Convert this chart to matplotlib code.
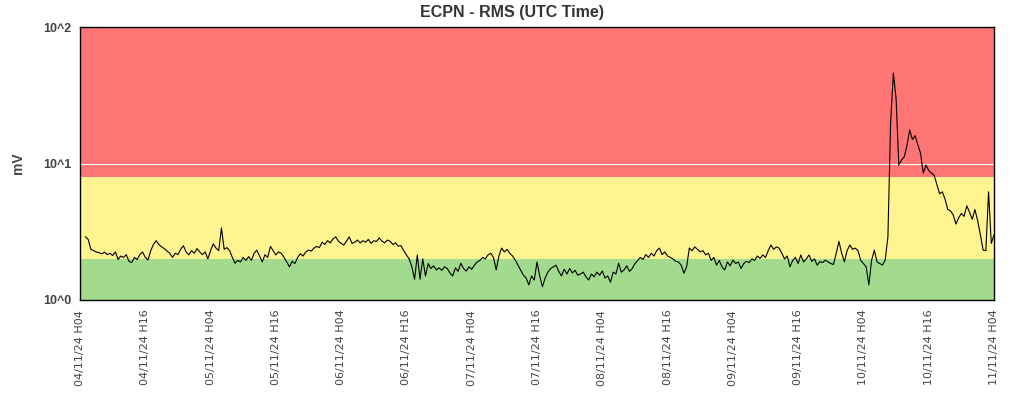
import pandas as pd
import matplotlib
matplotlib.use("Agg")
import matplotlib.pyplot as plt
import matplotlib.dates as mdates

# RMS values (mV), one every 30 min starting 04/11/24 05:00 UTC
rms = [
    # 04/11 H05 - H16
    2.90, 2.78, 2.35, 2.30, 2.25, 2.22, 2.18, 2.24, 2.15, 2.20, 2.12, 2.25,
    1.98, 2.10, 2.05, 2.15, 1.92, 1.88, 2.05, 1.98, 2.15, 2.25, 2.05, 1.96,
    # 04/11 H17 - 05/11 H04
    2.30, 2.55, 2.72, 2.55, 2.45, 2.38, 2.28, 2.20, 2.05, 2.20, 2.15, 2.35,
    2.50, 2.25, 2.14, 2.30, 2.20, 2.38, 2.25, 2.15, 2.25, 2.00, 2.30, 2.58,
    # 05/11 H05 - H16
    2.40, 2.30, 3.37, 2.35, 2.42, 2.30, 2.05, 1.86, 1.95, 1.90, 2.05, 1.95,
    2.08, 1.95, 2.20, 2.32, 2.10, 1.90, 2.15, 2.05, 2.47, 2.30, 2.14, 2.25,
    # 05/11 H17 - 06/11 H04
    2.20, 2.05, 1.90, 1.75, 1.92, 1.85, 2.05, 2.18, 2.10, 2.25, 2.32, 2.28,
    2.40, 2.47, 2.42, 2.65, 2.55, 2.72, 2.62, 2.80, 2.90, 2.70, 2.60, 2.53,
    # 06/11 H05 - H16
    2.70, 2.90, 2.60, 2.65, 2.75, 2.62, 2.72, 2.65, 2.78, 2.60, 2.72, 2.68,
    2.85, 2.70, 2.62, 2.75, 2.69, 2.55, 2.62, 2.48, 2.50, 2.30, 2.14, 2.00,
    # 06/11 H17 - 07/11 H04
    1.75, 1.42, 2.14, 1.42, 2.00, 1.50, 1.85, 1.70, 1.78, 1.66, 1.72, 1.65,
    1.75, 1.70, 1.58, 1.50, 1.72, 1.62, 1.86, 1.70, 1.63, 1.75, 1.68, 1.80,
    # 07/11 H05 - H16
    1.90, 1.95, 2.05, 2.00, 2.14, 2.20, 2.05, 1.66, 2.10, 2.40, 2.25, 2.35,
    2.20, 2.10, 1.96, 1.80, 1.65, 1.52, 1.45, 1.29, 1.50, 1.40, 1.90, 1.50,
    # 07/11 H17 - 08/11 H04
    1.25, 1.45, 1.60, 1.70, 1.75, 1.80, 1.62, 1.50, 1.68, 1.55, 1.70, 1.58,
    1.65, 1.52, 1.55, 1.60, 1.48, 1.40, 1.55, 1.48, 1.60, 1.52, 1.63, 1.45,
    # 08/11 H05 - H16
    1.50, 1.35, 1.60, 1.55, 1.86, 1.60, 1.66, 1.78, 1.62, 1.70, 1.85, 1.95,
    2.05, 1.98, 2.15, 2.05, 2.20, 2.10, 2.30, 2.40, 2.15, 2.25, 2.10, 2.05,
    # 08/11 H17 - 09/11 H04
    2.00, 1.92, 1.90, 1.80, 1.57, 1.75, 2.40, 2.30, 2.45, 2.35, 2.25, 2.30,
    2.14, 2.20, 1.95, 2.05, 1.80, 1.95, 1.75, 1.66, 1.90, 1.78, 1.96, 1.85,
    # 09/11 H05 - H16
    1.90, 1.70, 1.85, 1.92, 1.88, 2.00, 1.95, 2.10, 2.02, 2.14, 2.05, 2.30,
    2.53, 2.35, 2.45, 2.40, 2.20, 2.00, 2.10, 1.75, 1.95, 2.05, 1.85, 2.14,
    # 09/11 H17 - 10/11 H04
    1.90, 2.00, 2.14, 1.92, 2.00, 1.80, 1.91, 1.88, 1.96, 1.90, 1.85, 1.82,
    2.20, 2.69, 2.20, 1.90, 2.30, 2.53, 2.35, 2.40, 2.30, 1.95, 1.85, 1.75,
    # 10/11 H05 - H16
    1.29, 1.95, 2.32, 1.90, 1.85, 1.80, 1.96, 2.90, 20.0, 46.0, 30.0, 9.75,
    10.6, 11.2, 13.5, 17.6, 15.0, 16.0, 13.7, 11.9, 8.50, 9.75, 8.90, 8.50,
    # 10/11 H17 - 11/11 H04
    8.20, 7.00, 6.00, 6.20, 5.50, 4.60, 4.50, 4.20, 3.60, 4.00, 4.30, 4.10,
    4.90, 4.40, 3.90, 4.60, 3.80, 3.00, 2.32, 2.30, 6.20, 2.60, 3.00,
]

# alarm bands (mV)
green_band = (1, 2)
yellow_band = (2, 8)
red_band = (8, 100)

times = pd.date_range("2024-11-04 05:00", periods=len(rms), freq="30min")
start = pd.Timestamp("2024-11-04 04:00")
end = pd.Timestamp("2024-11-11 04:00")
ticks = pd.date_range(start, end, freq="12h")

fig = plt.figure(figsize=(10.24, 4), dpi=100)
ax = fig.add_axes([80/1024, 100/400, 914/1024, 273/400])

ax.axhspan(*green_band, color="#a2da8e", lw=0, zorder=0)
ax.axhspan(*yellow_band, color="#fff48f", lw=0, zorder=0)
ax.axhspan(*red_band, color="#ff7474", lw=0, zorder=0)
ax.axhline(10, color="white", lw=0.8, zorder=1)

ax.plot(times, rms, color="black", lw=0.8, zorder=2)

ax.set_yscale("log")
ax.set_ylim(1, 100)
ax.set_xlim(start, end)
ax.set_yticks([1, 10, 100])
ax.set_yticklabels(["10^0", "10^1", "10^2"])
ax.minorticks_off()
ax.tick_params(axis="y", length=0, pad=6, labelsize=9, labelcolor="#444444")
for lb in ax.get_yticklabels():
    lb.set_fontweight("bold")
    lb.set_family("Liberation Sans")

ax.set_xticks(ticks)
ax.xaxis.set_major_formatter(mdates.DateFormatter("%d/%m/%y H%H"))
ax.tick_params(axis="x", length=0, pad=7, labelsize=8, labelcolor="#444444",
               labelrotation=90)

for s in ax.spines.values():
    s.set_linewidth(1)
    s.set_color("black")

ax.set_ylabel("mV", fontsize=10, fontweight="bold", color="#444444",
              family="Liberation Sans", labelpad=13)
fig.text(0.5, 1 - 13/400, "ECPN - RMS (UTC Time)", ha="center", va="center",
         fontsize=11.5, fontweight="bold", color="#333333", family="Liberation Sans")

plt.savefig("out.png", dpi=100)
